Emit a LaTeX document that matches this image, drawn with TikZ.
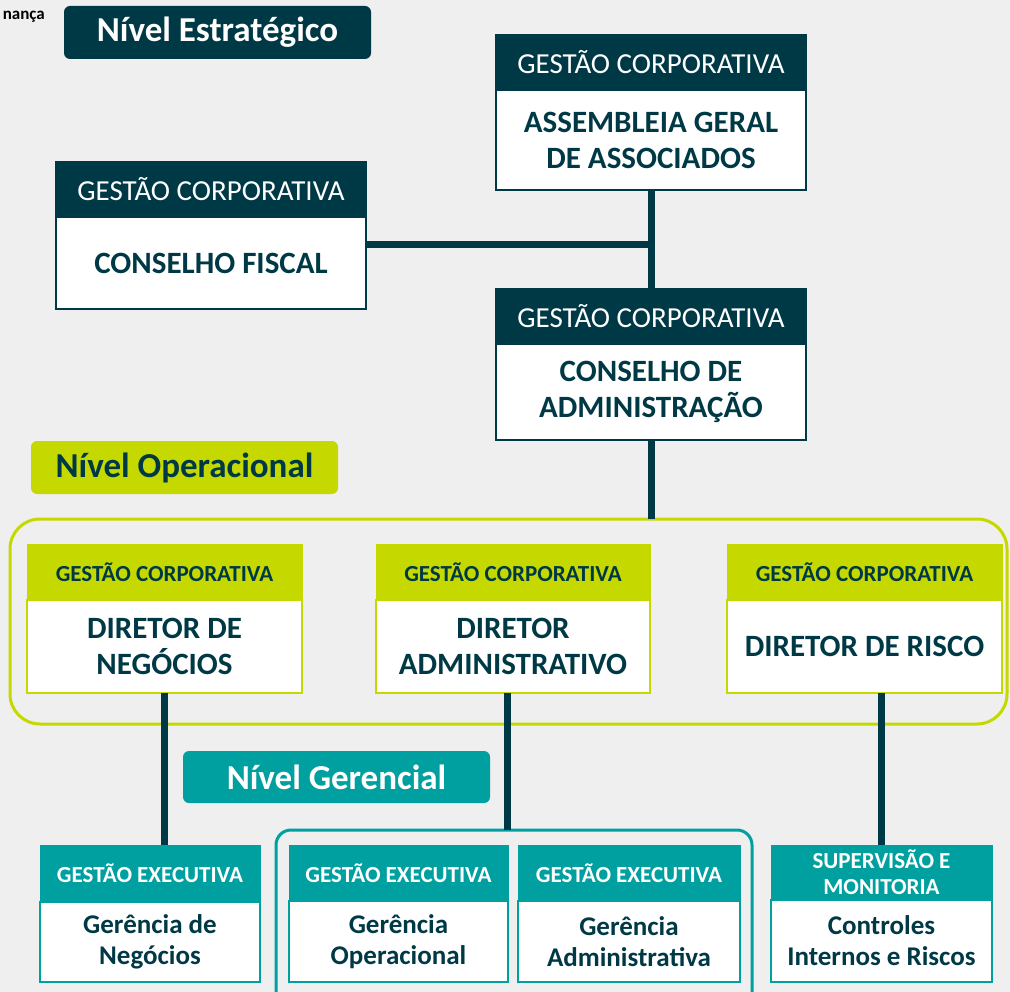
\documentclass[tikz,border=0pt]{standalone}
\usepackage{fontspec}
\setmainfont{Carlito}
\definecolor{dark}{RGB}{0,57,70}
\definecolor{lime}{RGB}{197,217,0}
\definecolor{tealc}{RGB}{0,160,160}
\definecolor{bg}{RGB}{239,239,239}
\newcommand{\fs}[2]{\fontsize{#1}{#2}\selectfont}
\begin{document}
\begin{tikzpicture}[x=1pt,y=-1pt,
  box/.style={anchor=north west, inner sep=0pt, outer sep=0pt, align=center},
  dhdr/.style={box, fill=dark, text=white, font=\fs{29}{32}},
  dbody/.style={box, fill=white, draw=dark, line width=2pt, text=dark, font=\bfseries\fs{31}{36}},
  lhdr/.style={box, fill=lime, text=dark, font=\bfseries\fs{23}{26}},
  lbody/.style={box, fill=white, draw=lime, line width=1.5pt, text=dark, font=\bfseries\fs{31}{36}},
  thdr/.style={box, fill=tealc, text=white, font=\bfseries\fs{23}{26}},
  tbody/.style={box, fill=white, draw=tealc, line width=2pt, text=dark, font=\bfseries\fs{27}{31}},
  level/.style={box, rounded corners=6pt, font=\bfseries\fs{35}{38}},
  conn/.style={draw=dark, line width=7pt},
]
\useasboundingbox (0,0) rectangle (1010,992);
\clip (0,0) rectangle (1010,992);
\fill[bg] (0,0) rectangle (1010,992);

\node[anchor=east, inner sep=0pt, text=black, font=\bfseries\fs{17}{19}] (gov) at (45,17) {nança};
\node[level, fill=dark, text=white, minimum width=307pt, minimum height=53pt] (nest) at (64,6) {Nível Estratégico};

% Assembleia
\node[dbody, minimum width=310pt, minimum height=100pt] (ag) at (496,90) {ASSEMBLEIA GERAL\\DE ASSOCIADOS};
\node[dhdr, minimum width=312pt, minimum height=56pt] (agh) at (495,34) {GESTÃO CORPORATIVA};

% Conselho Fiscal
\node[dbody, minimum width=310pt, minimum height=92pt] (cf) at (56,217) {CONSELHO FISCAL};
\node[dhdr, minimum width=312pt, minimum height=56pt] (cfh) at (55,161) {GESTÃO CORPORATIVA};

% Conselho de Administracao
\node[dbody, minimum width=310pt, minimum height=96pt] (ca) at (496,344) {CONSELHO DE\\ADMINISTRAÇÃO};
\node[dhdr, minimum width=312pt, minimum height=56pt] (cah) at (495,288) {GESTÃO CORPORATIVA};

\coordinate (j) at (651,245);
\draw[conn] (ag.south) -- (cah.north);
\draw[conn] (cf.east |- j) -- (j);

% Nivel Operacional
\node[level, fill=lime, text=dark, minimum width=307pt, minimum height=53pt] (nop) at (31,441) {Nível Operacional};
\node[box, draw=lime, line width=3pt, rounded corners=30pt, minimum width=997pt, minimum height=205pt] (opc) at (10,519) {};
\draw[conn] (ca.south) -- (ca.south |- opc.north);

% Directors
\node[lbody, minimum width=275pt, minimum height=93pt] (d1) at (27,600) {DIRETOR DE\\NEGÓCIOS};
\node[lhdr, minimum width=276pt, minimum height=56pt] (d1h) at (26.5,544) {GESTÃO CORPORATIVA};
\node[lbody, minimum width=274pt, minimum height=93pt] (d2) at (376,600) {DIRETOR\\ADMINISTRATIVO};
\node[lhdr, minimum width=275pt, minimum height=56pt] (d2h) at (375.5,544) {GESTÃO CORPORATIVA};
\node[lbody, minimum width=275pt, minimum height=93pt] (d3) at (727,600) {DIRETOR DE RISCO};
\node[lhdr, minimum width=276pt, minimum height=56pt] (d3h) at (726.5,544) {GESTÃO CORPORATIVA};

% Nivel Gerencial
\node[level, fill=tealc, text=white, minimum width=307pt, minimum height=52pt] (nger) at (183,751) {Nível Gerencial};
\node[box, draw=tealc, line width=3pt, rounded corners=15pt, minimum width=476pt, minimum height=180pt] (gc) at (276,830) {};

% Bottom boxes
\node[tbody, minimum width=220pt, minimum height=80pt] (g1) at (40,902) {Gerência de\\Negócios};
\node[thdr, minimum width=221pt, minimum height=57pt] (g1h) at (39.5,845) {GESTÃO EXECUTIVA};
\node[tbody, minimum width=219pt, minimum height=81pt] (g2) at (289,901) {Gerência\\Operacional};
\node[thdr, minimum width=220pt, minimum height=56pt] (g2h) at (288.5,845) {GESTÃO EXECUTIVA};
\node[tbody, minimum width=222pt, minimum height=81pt] (g3) at (518,901) {Gerência\\Administrativa};
\node[thdr, minimum width=223pt, minimum height=56pt] (g3h) at (517.5,845) {GESTÃO EXECUTIVA};
\node[tbody, minimum width=221pt, minimum height=82pt] (g4) at (771,900) {Controles\\Internos e Riscos};
\node[thdr, minimum width=222pt, minimum height=55pt] (g4h) at (770.5,845) {SUPERVISÃO E\\MONITORIA};

\draw[conn] (d1.south) -- (d1.south |- g1h.north);
\draw[conn] ([xshift=-6pt]d2.south) -- ([xshift=-6pt]d2.south |- gc.north);
\draw[conn] (g4h.north) -- (g4h.north |- d3.south);
\end{tikzpicture}
\end{document}
